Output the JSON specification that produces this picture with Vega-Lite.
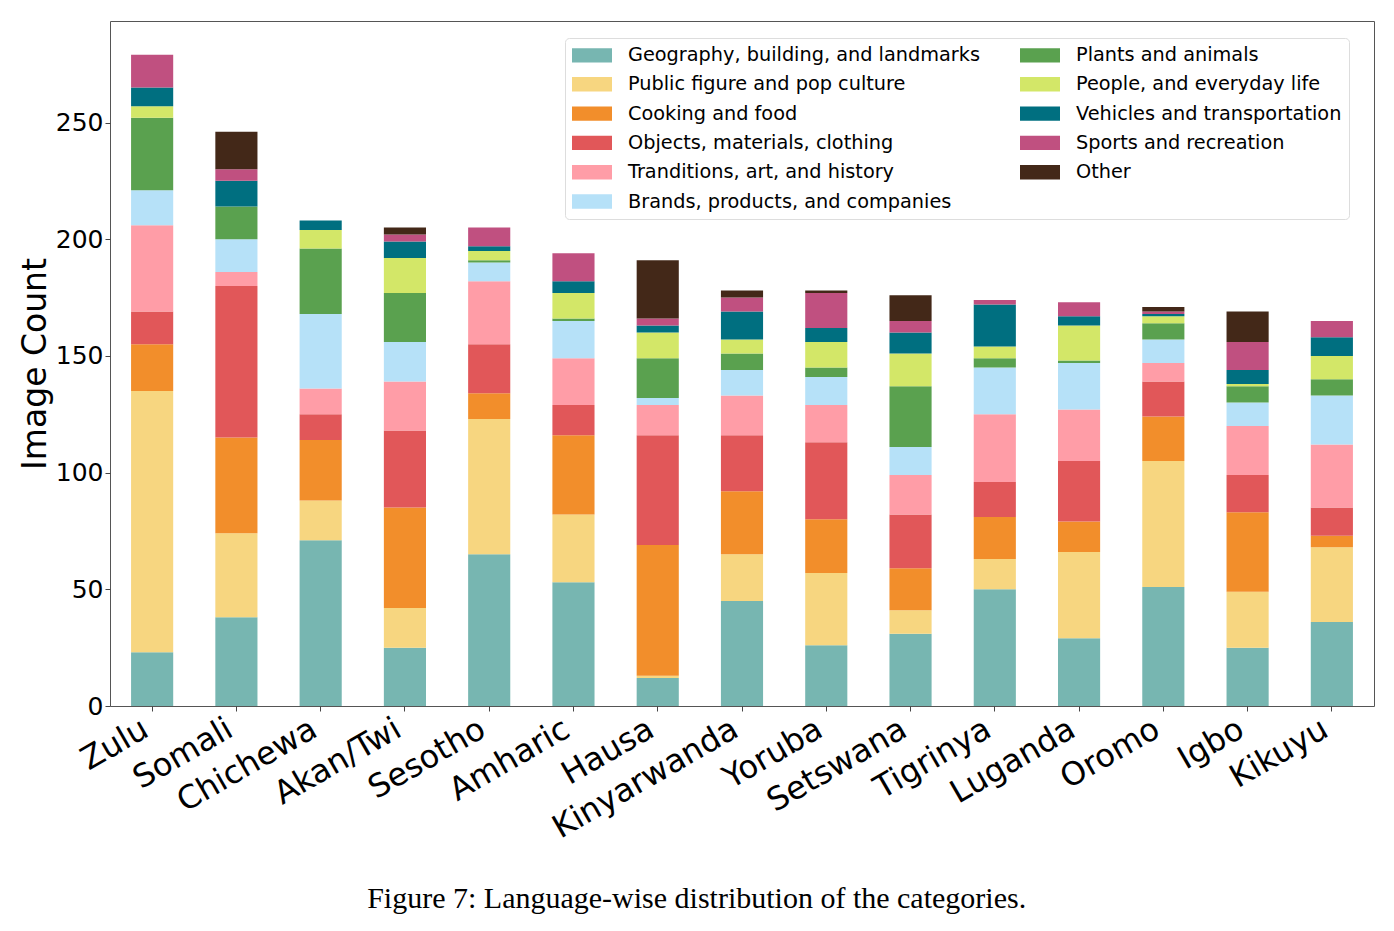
{
  "$schema": "https://vega.github.io/schema/vega-lite/v6.json",
  "width": 1264,
  "height": 685,
  "autosize": {"type": "none"},
  "padding": {"left": 110, "top": 21, "right": 20, "bottom": 225},
  "background": "white",
  "config": {
    "font": "DejaVu Sans",
    "view": {"stroke": "#555555", "strokeWidth": 1}
  },
  "title": {
    "text": "Figure 7: Language-wise distribution of the categories.",
    "orient": "bottom",
    "anchor": "middle",
    "frame": "bounds",
    "font": "Liberation Serif",
    "fontSize": 30,
    "fontWeight": "normal",
    "color": "black",
    "offset": 40
  },
  "data": {
    "values": [
      {"language": "Zulu", "category": "Geography, building, and landmarks", "count": 23},
      {"language": "Zulu", "category": "Public figure and pop culture", "count": 112},
      {"language": "Zulu", "category": "Cooking and food", "count": 20},
      {"language": "Zulu", "category": "Objects, materials, clothing", "count": 14},
      {"language": "Zulu", "category": "Tranditions, art, and history", "count": 37},
      {"language": "Zulu", "category": "Brands, products, and companies", "count": 15},
      {"language": "Zulu", "category": "Plants and animals", "count": 31},
      {"language": "Zulu", "category": "People, and everyday life", "count": 5},
      {"language": "Zulu", "category": "Vehicles and transportation", "count": 8},
      {"language": "Zulu", "category": "Sports and recreation", "count": 14},

      {"language": "Somali", "category": "Geography, building, and landmarks", "count": 38},
      {"language": "Somali", "category": "Public figure and pop culture", "count": 36},
      {"language": "Somali", "category": "Cooking and food", "count": 41},
      {"language": "Somali", "category": "Objects, materials, clothing", "count": 65},
      {"language": "Somali", "category": "Tranditions, art, and history", "count": 6},
      {"language": "Somali", "category": "Brands, products, and companies", "count": 14},
      {"language": "Somali", "category": "Plants and animals", "count": 14},
      {"language": "Somali", "category": "Vehicles and transportation", "count": 11},
      {"language": "Somali", "category": "Sports and recreation", "count": 5},
      {"language": "Somali", "category": "Other", "count": 16},

      {"language": "Chichewa", "category": "Geography, building, and landmarks", "count": 71},
      {"language": "Chichewa", "category": "Public figure and pop culture", "count": 17},
      {"language": "Chichewa", "category": "Cooking and food", "count": 26},
      {"language": "Chichewa", "category": "Objects, materials, clothing", "count": 11},
      {"language": "Chichewa", "category": "Tranditions, art, and history", "count": 11},
      {"language": "Chichewa", "category": "Brands, products, and companies", "count": 32},
      {"language": "Chichewa", "category": "Plants and animals", "count": 28},
      {"language": "Chichewa", "category": "People, and everyday life", "count": 8},
      {"language": "Chichewa", "category": "Vehicles and transportation", "count": 4},

      {"language": "Akan/Twi", "category": "Geography, building, and landmarks", "count": 25},
      {"language": "Akan/Twi", "category": "Public figure and pop culture", "count": 17},
      {"language": "Akan/Twi", "category": "Cooking and food", "count": 43},
      {"language": "Akan/Twi", "category": "Objects, materials, clothing", "count": 33},
      {"language": "Akan/Twi", "category": "Tranditions, art, and history", "count": 21},
      {"language": "Akan/Twi", "category": "Brands, products, and companies", "count": 17},
      {"language": "Akan/Twi", "category": "Plants and animals", "count": 21},
      {"language": "Akan/Twi", "category": "People, and everyday life", "count": 15},
      {"language": "Akan/Twi", "category": "Vehicles and transportation", "count": 7},
      {"language": "Akan/Twi", "category": "Sports and recreation", "count": 3},
      {"language": "Akan/Twi", "category": "Other", "count": 3},

      {"language": "Sesotho", "category": "Geography, building, and landmarks", "count": 65},
      {"language": "Sesotho", "category": "Public figure and pop culture", "count": 58},
      {"language": "Sesotho", "category": "Cooking and food", "count": 11},
      {"language": "Sesotho", "category": "Objects, materials, clothing", "count": 21},
      {"language": "Sesotho", "category": "Tranditions, art, and history", "count": 27},
      {"language": "Sesotho", "category": "Brands, products, and companies", "count": 8},
      {"language": "Sesotho", "category": "Plants and animals", "count": 1},
      {"language": "Sesotho", "category": "People, and everyday life", "count": 4},
      {"language": "Sesotho", "category": "Vehicles and transportation", "count": 2},
      {"language": "Sesotho", "category": "Sports and recreation", "count": 8},

      {"language": "Amharic", "category": "Geography, building, and landmarks", "count": 53},
      {"language": "Amharic", "category": "Public figure and pop culture", "count": 29},
      {"language": "Amharic", "category": "Cooking and food", "count": 34},
      {"language": "Amharic", "category": "Objects, materials, clothing", "count": 13},
      {"language": "Amharic", "category": "Tranditions, art, and history", "count": 20},
      {"language": "Amharic", "category": "Brands, products, and companies", "count": 16},
      {"language": "Amharic", "category": "Plants and animals", "count": 1},
      {"language": "Amharic", "category": "People, and everyday life", "count": 11},
      {"language": "Amharic", "category": "Vehicles and transportation", "count": 5},
      {"language": "Amharic", "category": "Sports and recreation", "count": 12},

      {"language": "Hausa", "category": "Geography, building, and landmarks", "count": 12},
      {"language": "Hausa", "category": "Public figure and pop culture", "count": 1},
      {"language": "Hausa", "category": "Cooking and food", "count": 56},
      {"language": "Hausa", "category": "Objects, materials, clothing", "count": 47},
      {"language": "Hausa", "category": "Tranditions, art, and history", "count": 13},
      {"language": "Hausa", "category": "Brands, products, and companies", "count": 3},
      {"language": "Hausa", "category": "Plants and animals", "count": 17},
      {"language": "Hausa", "category": "People, and everyday life", "count": 11},
      {"language": "Hausa", "category": "Vehicles and transportation", "count": 3},
      {"language": "Hausa", "category": "Sports and recreation", "count": 3},
      {"language": "Hausa", "category": "Other", "count": 25},

      {"language": "Kinyarwanda", "category": "Geography, building, and landmarks", "count": 45},
      {"language": "Kinyarwanda", "category": "Public figure and pop culture", "count": 20},
      {"language": "Kinyarwanda", "category": "Cooking and food", "count": 27},
      {"language": "Kinyarwanda", "category": "Objects, materials, clothing", "count": 24},
      {"language": "Kinyarwanda", "category": "Tranditions, art, and history", "count": 17},
      {"language": "Kinyarwanda", "category": "Brands, products, and companies", "count": 11},
      {"language": "Kinyarwanda", "category": "Plants and animals", "count": 7},
      {"language": "Kinyarwanda", "category": "People, and everyday life", "count": 6},
      {"language": "Kinyarwanda", "category": "Vehicles and transportation", "count": 12},
      {"language": "Kinyarwanda", "category": "Sports and recreation", "count": 6},
      {"language": "Kinyarwanda", "category": "Other", "count": 3},

      {"language": "Yoruba", "category": "Geography, building, and landmarks", "count": 26},
      {"language": "Yoruba", "category": "Public figure and pop culture", "count": 31},
      {"language": "Yoruba", "category": "Cooking and food", "count": 23},
      {"language": "Yoruba", "category": "Objects, materials, clothing", "count": 33},
      {"language": "Yoruba", "category": "Tranditions, art, and history", "count": 16},
      {"language": "Yoruba", "category": "Brands, products, and companies", "count": 12},
      {"language": "Yoruba", "category": "Plants and animals", "count": 4},
      {"language": "Yoruba", "category": "People, and everyday life", "count": 11},
      {"language": "Yoruba", "category": "Vehicles and transportation", "count": 6},
      {"language": "Yoruba", "category": "Sports and recreation", "count": 15},
      {"language": "Yoruba", "category": "Other", "count": 1},

      {"language": "Setswana", "category": "Geography, building, and landmarks", "count": 31},
      {"language": "Setswana", "category": "Public figure and pop culture", "count": 10},
      {"language": "Setswana", "category": "Cooking and food", "count": 18},
      {"language": "Setswana", "category": "Objects, materials, clothing", "count": 23},
      {"language": "Setswana", "category": "Tranditions, art, and history", "count": 17},
      {"language": "Setswana", "category": "Brands, products, and companies", "count": 12},
      {"language": "Setswana", "category": "Plants and animals", "count": 26},
      {"language": "Setswana", "category": "People, and everyday life", "count": 14},
      {"language": "Setswana", "category": "Vehicles and transportation", "count": 9},
      {"language": "Setswana", "category": "Sports and recreation", "count": 5},
      {"language": "Setswana", "category": "Other", "count": 11},

      {"language": "Tigrinya", "category": "Geography, building, and landmarks", "count": 50},
      {"language": "Tigrinya", "category": "Public figure and pop culture", "count": 13},
      {"language": "Tigrinya", "category": "Cooking and food", "count": 18},
      {"language": "Tigrinya", "category": "Objects, materials, clothing", "count": 15},
      {"language": "Tigrinya", "category": "Tranditions, art, and history", "count": 29},
      {"language": "Tigrinya", "category": "Brands, products, and companies", "count": 20},
      {"language": "Tigrinya", "category": "Plants and animals", "count": 4},
      {"language": "Tigrinya", "category": "People, and everyday life", "count": 5},
      {"language": "Tigrinya", "category": "Vehicles and transportation", "count": 18},
      {"language": "Tigrinya", "category": "Sports and recreation", "count": 2},

      {"language": "Luganda", "category": "Geography, building, and landmarks", "count": 29},
      {"language": "Luganda", "category": "Public figure and pop culture", "count": 37},
      {"language": "Luganda", "category": "Cooking and food", "count": 13},
      {"language": "Luganda", "category": "Objects, materials, clothing", "count": 26},
      {"language": "Luganda", "category": "Tranditions, art, and history", "count": 22},
      {"language": "Luganda", "category": "Brands, products, and companies", "count": 20},
      {"language": "Luganda", "category": "Plants and animals", "count": 1},
      {"language": "Luganda", "category": "People, and everyday life", "count": 15},
      {"language": "Luganda", "category": "Vehicles and transportation", "count": 4},
      {"language": "Luganda", "category": "Sports and recreation", "count": 6},

      {"language": "Oromo", "category": "Geography, building, and landmarks", "count": 51},
      {"language": "Oromo", "category": "Public figure and pop culture", "count": 54},
      {"language": "Oromo", "category": "Cooking and food", "count": 19},
      {"language": "Oromo", "category": "Objects, materials, clothing", "count": 15},
      {"language": "Oromo", "category": "Tranditions, art, and history", "count": 8},
      {"language": "Oromo", "category": "Brands, products, and companies", "count": 10},
      {"language": "Oromo", "category": "Plants and animals", "count": 7},
      {"language": "Oromo", "category": "People, and everyday life", "count": 3},
      {"language": "Oromo", "category": "Vehicles and transportation", "count": 1},
      {"language": "Oromo", "category": "Sports and recreation", "count": 1},
      {"language": "Oromo", "category": "Other", "count": 2},

      {"language": "Igbo", "category": "Geography, building, and landmarks", "count": 25},
      {"language": "Igbo", "category": "Public figure and pop culture", "count": 24},
      {"language": "Igbo", "category": "Cooking and food", "count": 34},
      {"language": "Igbo", "category": "Objects, materials, clothing", "count": 16},
      {"language": "Igbo", "category": "Tranditions, art, and history", "count": 21},
      {"language": "Igbo", "category": "Brands, products, and companies", "count": 10},
      {"language": "Igbo", "category": "Plants and animals", "count": 7},
      {"language": "Igbo", "category": "People, and everyday life", "count": 1},
      {"language": "Igbo", "category": "Vehicles and transportation", "count": 6},
      {"language": "Igbo", "category": "Sports and recreation", "count": 12},
      {"language": "Igbo", "category": "Other", "count": 13},

      {"language": "Kikuyu", "category": "Geography, building, and landmarks", "count": 36},
      {"language": "Kikuyu", "category": "Public figure and pop culture", "count": 32},
      {"language": "Kikuyu", "category": "Cooking and food", "count": 5},
      {"language": "Kikuyu", "category": "Objects, materials, clothing", "count": 12},
      {"language": "Kikuyu", "category": "Tranditions, art, and history", "count": 27},
      {"language": "Kikuyu", "category": "Brands, products, and companies", "count": 21},
      {"language": "Kikuyu", "category": "Plants and animals", "count": 7},
      {"language": "Kikuyu", "category": "People, and everyday life", "count": 10},
      {"language": "Kikuyu", "category": "Vehicles and transportation", "count": 8},
      {"language": "Kikuyu", "category": "Sports and recreation", "count": 7}
    ]
  },
  "transform": [
    {"window": [{"op": "row_number", "as": "stackIdx"}], "groupby": ["language"]}
  ],
  "mark": {"type": "bar"},
  "encoding": {
    "x": {
      "field": "language",
      "type": "nominal",
      "sort": ["Zulu", "Somali", "Chichewa", "Akan/Twi", "Sesotho", "Amharic", "Hausa", "Kinyarwanda", "Yoruba", "Setswana", "Tigrinya", "Luganda", "Oromo", "Igbo", "Kikuyu"],
      "scale": {"paddingInner": 0.5, "paddingOuter": 0.25},
      "axis": {
        "title": null,
        "domain": false,
        "labelFontSize": 32,
        "labelAngle": -30,
        "labelAlign": "right",
        "labelBaseline": "top",
        "labelOffset": -14,
        "labelPadding": 2,
        "labelLimit": 0,
        "labelColor": "black",
        "tickSize": 5,
        "tickColor": "#444444"
      }
    },
    "y": {
      "field": "count",
      "type": "quantitative",
      "aggregate": "sum",
      "stack": "zero",
      "scale": {"domain": [0, 293.5], "nice": false, "zero": true},
      "axis": {
        "title": "Image Count",
        "titleFontSize": 33,
        "titleFontWeight": "normal",
        "titleColor": "black",
        "titlePadding": 3,
        "values": [0, 50, 100, 150, 200, 250],
        "grid": false,
        "domain": false,
        "labelFontSize": 25,
        "labelColor": "black",
        "labelPadding": 2,
        "tickSize": 5,
        "tickColor": "#444444"
      }
    },
    "order": {"field": "stackIdx", "type": "quantitative", "sort": "ascending"},
    "color": {
      "field": "category",
      "type": "nominal",
      "scale": {
        "domain": [
          "Geography, building, and landmarks",
          "Public figure and pop culture",
          "Cooking and food",
          "Objects, materials, clothing",
          "Tranditions, art, and history",
          "Brands, products, and companies",
          "Plants and animals",
          "People, and everyday life",
          "Vehicles and transportation",
          "Sports and recreation",
          "Other"
        ],
        "range": [
          "#77b6b1", "#f7d680", "#f28e2b", "#e15759", "#ff9da7", "#b6e1f8",
          "#5aa14f", "#d3e768", "#006f80", "#c05080", "#432818"
        ]
      },
      "legend": {
        "title": null,
        "orient": "none",
        "legendX": 455,
        "legendY": 17,
        "columns": 2,
        "columnPadding": 40,
        "rowPadding": 8.3,
        "padding": 7,
        "labelFontSize": 19.3,
        "labelColor": "black",
        "labelLimit": 0,
        "labelOffset": 36,
        "symbolType": "M-1,-0.72L3,-0.72L3,0.72L-1,0.72Z",
        "symbolSize": 400,
        "symbolStrokeWidth": 0,
        "symbolOpacity": 1,
        "fillColor": "white",
        "strokeColor": "#dddddd",
        "cornerRadius": 4
      }
    }
  }
}
